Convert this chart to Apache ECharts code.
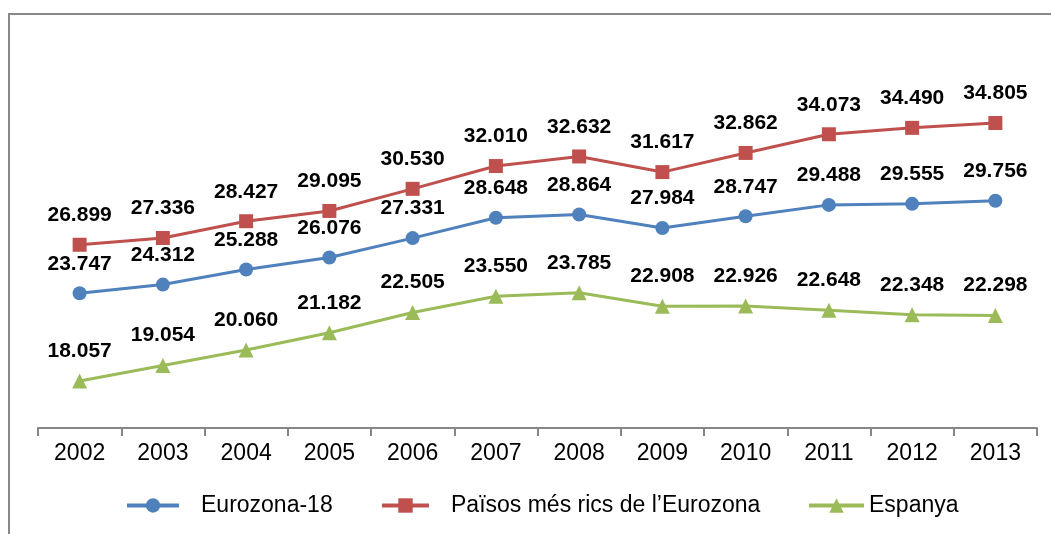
<!DOCTYPE html>
<html>
<head>
<meta charset="utf-8">
<script src="https://cdn.jsdelivr.net/npm/echarts@6/dist/echarts.min.js"></script>
<style>
  html, body { margin: 0; padding: 0; background: #fff; }
  #chart { width: 1051px; height: 534px; }
</style>
</head>
<body>
<div id="chart"></div>
<script>
// dades (milers d'euros)
var years = ['2002', '2003', '2004', '2005', '2006', '2007', '2008', '2009', '2010', '2011', '2012', '2013'];
var eurozona = [23.747, 24.312, 25.288, 26.076, 27.331, 28.648, 28.864, 27.984, 28.747, 29.488, 29.555, 29.756];
var paisosRics = [26.899, 27.336, 28.427, 29.095, 30.530, 32.010, 32.632, 31.617, 32.862, 34.073, 34.490, 34.805];
var espanya = [18.057, 19.054, 20.060, 21.182, 22.505, 23.550, 23.785, 22.908, 22.926, 22.648, 22.348, 22.298];

var FONT = 'Arial, "Liberation Sans", sans-serif';

function makeSeries(name, data, color, symbol, size) {
    return {
        name: name,
        type: 'line',
        data: data,
        symbol: symbol,
        symbolSize: size,
        lineStyle: { color: color, width: 3 },
        itemStyle: { color: color },
        label: {
            show: true,
            position: 'top',
            distance: 12,
            color: '#000',
            fontFamily: FONT,
            fontWeight: 'bold',
            fontSize: 21,
            formatter: function (p) { return p.value.toFixed(3); }
        },
        animation: false
    };
}

function makeLegend(name, left, width, pad) {
    return {
        data: [name],
        left: left,
        top: 494,
        padding: 0,
        itemWidth: width,
        itemHeight: 18,
        lineStyle: { width: 4 },
        textStyle: {
            color: '#000',
            fontFamily: FONT,
            fontSize: 23,
            padding: [0, 0, 0, pad]
        }
    };
}

var chart = echarts.init(document.getElementById('chart'));
var option = {
    backgroundColor: '#fff',
    graphic: [{
        type: 'rect',
        shape: { x: 9, y: 14, width: 1100, height: 600 },
        style: { fill: 'none', stroke: '#878787', lineWidth: 2 },
        silent: true
    }],
    grid: { left: 38, right: 14, top: 43, bottom: 106 },
    legend: [
        makeLegend('Eurozona-18', 125, 52, 17),
        makeLegend('Països més rics de l\u2019Eurozona', 380, 47, 17),
        makeLegend('Espanya', 807, 55, 0)
    ],
    xAxis: {
        type: 'category',
        data: years,
        boundaryGap: true,
        axisLine: { lineStyle: { color: '#868686', width: 2 } },
        axisTick: { show: true, length: 8, lineStyle: { color: '#868686', width: 2 } },
        axisLabel: { color: '#000', fontFamily: FONT, fontSize: 23, margin: 14 }
    },
    yAxis: {
        type: 'value',
        min: 15,
        max: 40,
        show: false,
        splitLine: { show: false }
    },
    series: [
        makeSeries('Eurozona-18', eurozona, '#4F81BD', 'circle', 14),
        makeSeries('Països més rics de l\u2019Eurozona', paisosRics, '#C0504D', 'rect', 14),
        makeSeries('Espanya', espanya, '#9BBB59', 'triangle', 15)
    ]
};
chart.setOption(option);
</script>
</body>
</html>
